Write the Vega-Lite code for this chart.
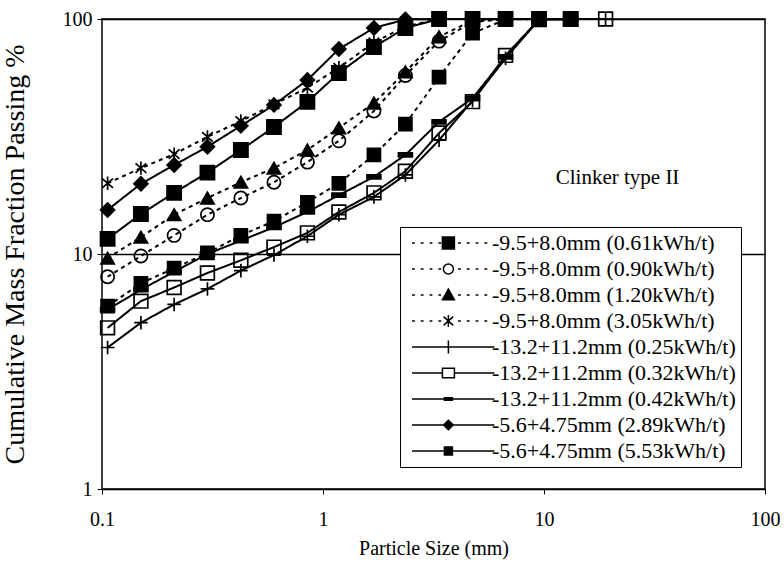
{
  "$schema": "https://vega.github.io/schema/vega-lite/v6.json",
  "autosize": {"type": "none"},
  "width": 663,
  "height": 470,
  "padding": {"left": 102, "top": 19, "right": 19, "bottom": 75},
  "background": "white",
  "config": {
    "font": "Liberation Serif",
    "view": {"stroke": "black", "strokeWidth": 1.5},
    "axis": {"labelFont": "Liberation Serif", "titleFont": "Liberation Serif", "labelColor": "black", "titleColor": "black", "titleFontWeight": "normal", "domain": false, "tickColor": "black", "tickSize": 5, "labelFontSize": 20, "titleFontSize": 20},
    "legend": {"orient": "none", "legendX": 298, "legendY": 208, "title": null, "strokeColor": "black", "fillColor": "white", "padding": 5,
      "labelFont": "Liberation Serif", "labelFontSize": 22, "labelColor": "black", "labelOffset": 65, "labelLimit": 400,
      "symbolSize": 64, "symbolStrokeWidth": 1.5, "symbolStrokeColor": "black", "symbolOpacity": 1, "rowPadding": 4}
  },
  "data": {"values": [
    {"s":"A","x":0.106,"y":6.0},{"s":"A","x":0.15,"y":7.5},{"s":"A","x":0.212,"y":8.7},{"s":"A","x":0.3,"y":10.1},{"s":"A","x":0.425,"y":12.0},{"s":"A","x":0.6,"y":13.8},{"s":"A","x":0.85,"y":16.6},{"s":"A","x":1.18,"y":20.0},{"s":"A","x":1.7,"y":26.4},{"s":"A","x":2.36,"y":35.7},{"s":"A","x":3.35,"y":56.6},{"s":"A","x":4.75,"y":87},{"s":"A","x":6.7,"y":99.5},{"s":"A","x":9.5,"y":100},{"s":"A","x":13.2,"y":100},
    {"s":"B","x":0.106,"y":8.0},{"s":"B","x":0.15,"y":9.8},{"s":"B","x":0.212,"y":12.0},{"s":"B","x":0.3,"y":14.7},{"s":"B","x":0.425,"y":17.3},{"s":"B","x":0.6,"y":20.2},{"s":"B","x":0.85,"y":24.6},{"s":"B","x":1.18,"y":30.3},{"s":"B","x":1.7,"y":40.6},{"s":"B","x":2.36,"y":57.5},{"s":"B","x":3.35,"y":80.5},{"s":"B","x":4.75,"y":97},{"s":"B","x":6.7,"y":100},{"s":"B","x":9.5,"y":100},{"s":"B","x":13.2,"y":100},
    {"s":"C","x":0.106,"y":9.6},{"s":"C","x":0.15,"y":11.8},{"s":"C","x":0.212,"y":14.7},{"s":"C","x":0.3,"y":17.3},{"s":"C","x":0.425,"y":20.2},{"s":"C","x":0.6,"y":23.2},{"s":"C","x":0.85,"y":27.7},{"s":"C","x":1.18,"y":34.4},{"s":"C","x":1.7,"y":43.9},{"s":"C","x":2.36,"y":59.5},{"s":"C","x":3.35,"y":84},{"s":"C","x":4.75,"y":98.5},{"s":"C","x":6.7,"y":100},{"s":"C","x":9.5,"y":100},{"s":"C","x":13.2,"y":100},
    {"s":"D","x":0.106,"y":20.0},{"s":"D","x":0.15,"y":23.2},{"s":"D","x":0.212,"y":26.6},{"s":"D","x":0.3,"y":31.5},{"s":"D","x":0.425,"y":36.8},{"s":"D","x":0.6,"y":43.3},{"s":"D","x":0.85,"y":51.0},{"s":"D","x":1.18,"y":62},{"s":"D","x":1.7,"y":79.5},{"s":"D","x":2.36,"y":93},{"s":"D","x":3.35,"y":100},{"s":"D","x":4.75,"y":100},{"s":"D","x":6.7,"y":100},{"s":"D","x":9.5,"y":100},{"s":"D","x":13.2,"y":100},
    {"s":"E","x":0.106,"y":4.0},{"s":"E","x":0.15,"y":5.1},{"s":"E","x":0.212,"y":6.1},{"s":"E","x":0.3,"y":7.1},{"s":"E","x":0.425,"y":8.5},{"s":"E","x":0.6,"y":9.9},{"s":"E","x":0.85,"y":11.9},{"s":"E","x":1.18,"y":14.7},{"s":"E","x":1.7,"y":17.5},{"s":"E","x":2.36,"y":21.7},{"s":"E","x":3.35,"y":30.5},{"s":"E","x":4.75,"y":45},{"s":"E","x":6.7,"y":68},{"s":"E","x":9.5,"y":99.5},{"s":"E","x":13.2,"y":100},{"s":"E","x":19,"y":100},
    {"s":"F","x":0.106,"y":4.85},{"s":"F","x":0.15,"y":6.3},{"s":"F","x":0.212,"y":7.2},{"s":"F","x":0.3,"y":8.3},{"s":"F","x":0.425,"y":9.4},{"s":"F","x":0.6,"y":10.7},{"s":"F","x":0.85,"y":12.3},{"s":"F","x":1.18,"y":15.1},{"s":"F","x":1.7,"y":18.2},{"s":"F","x":2.36,"y":22.5},{"s":"F","x":3.35,"y":32.7},{"s":"F","x":4.75,"y":44.5},{"s":"F","x":6.7,"y":70},{"s":"F","x":9.5,"y":99.5},{"s":"F","x":13.2,"y":100},{"s":"F","x":19,"y":100},
    {"s":"G","x":0.106,"y":5.8},{"s":"G","x":0.15,"y":7.05},{"s":"G","x":0.212,"y":8.4},{"s":"G","x":0.3,"y":10.0},{"s":"G","x":0.425,"y":11.4},{"s":"G","x":0.6,"y":13.0},{"s":"G","x":0.85,"y":15.1},{"s":"G","x":1.18,"y":17.8},{"s":"G","x":1.7,"y":21.3},{"s":"G","x":2.36,"y":26.4},{"s":"G","x":3.35,"y":36.5},{"s":"G","x":4.75,"y":46},{"s":"G","x":6.7,"y":69},{"s":"G","x":9.5,"y":99.5},{"s":"G","x":13.2,"y":100},
    {"s":"H","x":0.106,"y":15.4},{"s":"H","x":0.15,"y":19.9},{"s":"H","x":0.212,"y":23.9},{"s":"H","x":0.3,"y":28.6},{"s":"H","x":0.425,"y":35.1},{"s":"H","x":0.6,"y":43.1},{"s":"H","x":0.85,"y":55.0},{"s":"H","x":1.18,"y":74.5},{"s":"H","x":1.7,"y":91.6},{"s":"H","x":2.36,"y":99.6},{"s":"H","x":3.35,"y":100},{"s":"H","x":4.75,"y":100},{"s":"H","x":6.7,"y":100},{"s":"H","x":9.5,"y":100},{"s":"H","x":13.2,"y":100},
    {"s":"I","x":0.106,"y":11.6},{"s":"I","x":0.15,"y":14.8},{"s":"I","x":0.212,"y":18.2},{"s":"I","x":0.3,"y":22.2},{"s":"I","x":0.425,"y":27.7},{"s":"I","x":0.6,"y":34.7},{"s":"I","x":0.85,"y":44.4},{"s":"I","x":1.18,"y":58.9},{"s":"I","x":1.7,"y":76},{"s":"I","x":2.36,"y":91.6},{"s":"I","x":3.35,"y":100},{"s":"I","x":4.75,"y":100},{"s":"I","x":6.7,"y":100},{"s":"I","x":9.5,"y":100},{"s":"I","x":13.2,"y":100}
  ]},
  "encoding": {
    "x": {"field": "x", "type": "quantitative", "scale": {"type": "log", "domain": [0.1, 100], "nice": false},
      "axis": {"values": [0.1, 1, 10, 100], "format": "~g", "title": "Particle Size (mm)", "grid": false, "labelPadding": 15, "titlePadding": 9, "labelFlush": false}},
    "y": {"field": "y", "type": "quantitative", "scale": {"type": "log", "domain": [1, 100], "nice": false},
      "axis": {"values": [1, 10, 100], "format": "~g", "title": "Cumulative Mass Fraction Passing %", "titleFontSize": 28, "grid": true, "gridColor": "black", "gridWidth": 1.5, "gridOpacity": 1, "labelPadding": 5, "titlePadding": 33, "labelFlush": false}}
  },
  "layer": [
    {
      "mark": {"type": "line", "color": "black", "strokeWidth": 2},
      "encoding": {
        "detail": {"field": "s"},
        "strokeDash": {"field": "s", "type": "nominal", "legend": null,
          "scale": {"domain": ["A","B","C","D","E","F","G","H","I"], "range": [[4,4],[4,4],[4,4],[4,4],[1,0],[1,0],[1,0],[1,0],[1,0]]}}
      }
    },
    {
      "mark": {"type": "point", "filled": true, "stroke": "black", "strokeWidth": 1.7, "opacity": 1},
      "encoding": {
        "shape": {"field": "s", "type": "nominal", "legend": null,
          "scale": {"domain": ["A","B","C","D","E","F","G","H","I"], "range": ["square", "circle", "triangle-up", "M0,-1V1M-0.8,-0.7L0.8,0.7M-0.8,0.7L0.8,-0.7", "M-1,0H1M0,-1V1", "square", "M-1,-0.3H1V0.3H-1Z", "diamond", "square"]}},
        "fill": {"field": "s", "type": "nominal", "legend": null,
          "scale": {"domain": ["A","B","C","D","E","F","G","H","I"], "range": ["black", "transparent", "black", "black", "black", "transparent", "black", "black", "black"]}},
        "size": {"field": "s", "type": "nominal", "legend": null,
          "scale": {"domain": ["A","B","C","D","E","F","G","H","I"], "range": [170, 200, 180, 250, 260, 140, 100, 120, 100]}}
      }
    },
    {
      "mark": {"type": "point", "filled": true, "opacity": 0},
      "encoding": {
        "shape": {"field": "s", "type": "nominal",
          "scale": {"domain": ["A","B","C","D","E","F","G","H","I"], "range": [
            "M-1,0H-0.3M1.2,0H1.9M3.4,0H4.1M5.6,0H6.3M10.5,0H11.2M12.7,0H13.4M14.9,0H15.6M17.1,0H17.8M6.6,-1.5H9.6V1.5H6.6Z",
            "M-1,0H-0.3M1.2,0H1.9M3.4,0H4.1M5.6,0H6.3M10.5,0H11.2M12.7,0H13.4M14.9,0H15.6M17.1,0H17.8M6.85,0A1.25,1.25,0,1,0,9.35,0A1.25,1.25,0,1,0,6.85,0Z",
            "M-1,0H-0.3M1.2,0H1.9M3.4,0H4.1M5.6,0H6.3M10.5,0H11.2M12.7,0H13.4M14.9,0H15.6M17.1,0H17.8M8.1,-1.5L9.6,1.2H6.6Z",
            "M-1,0H-0.3M1.2,0H1.9M3.4,0H4.1M5.6,0H6.3M10.5,0H11.2M12.7,0H13.4M14.9,0H15.6M17.1,0H17.8M8.1,-1.5V1.5M6.9,-1.1L9.3,1.1M6.9,1.1L9.3,-1.1",
            "M-1,0H19.6M8.1,-1.6V1.6",
            "M-1,0H6.6M9.6,0H19.6M6.6,-1.2H9.6V1.2H6.6Z",
            "M-1,0H19.6M7.1,-0.3H9.1V0.3H7.1Z",
            "M-1,0H19.6M8.1,-1.2L9.3,0L8.1,1.2L6.9,0Z",
            "M-1,0H19.6M7.1,-1H9.1V1H7.1Z"
          ]},
          "legend": {"labelExpr": "{'A':'-9.5+8.0mm (0.61kWh/t)','B':'-9.5+8.0mm (0.90kWh/t)','C':'-9.5+8.0mm (1.20kWh/t)','D':'-9.5+8.0mm (3.05kWh/t)','E':'-13.2+11.2mm (0.25kWh/t)','F':'-13.2+11.2mm (0.32kWh/t)','G':'-13.2+11.2mm (0.42kWh/t)','H':'-5.6+4.75mm (2.89kWh/t)','I':'-5.6+4.75mm (5.53kWh/t)'}[datum.label]"}},
        "fill": {"field": "s", "type": "nominal",
          "scale": {"domain": ["A","B","C","D","E","F","G","H","I"], "range": ["black", "white", "black", "black", "black", "white", "black", "black", "black"]},
          "legend": {"labelExpr": "{'A':'-9.5+8.0mm (0.61kWh/t)','B':'-9.5+8.0mm (0.90kWh/t)','C':'-9.5+8.0mm (1.20kWh/t)','D':'-9.5+8.0mm (3.05kWh/t)','E':'-13.2+11.2mm (0.25kWh/t)','F':'-13.2+11.2mm (0.32kWh/t)','G':'-13.2+11.2mm (0.42kWh/t)','H':'-5.6+4.75mm (2.89kWh/t)','I':'-5.6+4.75mm (5.53kWh/t)'}[datum.label]"}},
        "stroke": {"field": "s", "type": "nominal",
          "scale": {"domain": ["A","B","C","D","E","F","G","H","I"], "range": ["black", "black", "black", "black", "black", "black", "black", "black", "black"]},
          "legend": {"labelExpr": "{'A':'-9.5+8.0mm (0.61kWh/t)','B':'-9.5+8.0mm (0.90kWh/t)','C':'-9.5+8.0mm (1.20kWh/t)','D':'-9.5+8.0mm (3.05kWh/t)','E':'-13.2+11.2mm (0.25kWh/t)','F':'-13.2+11.2mm (0.32kWh/t)','G':'-13.2+11.2mm (0.42kWh/t)','H':'-5.6+4.75mm (2.89kWh/t)','I':'-5.6+4.75mm (5.53kWh/t)'}[datum.label]"}}
      }
    },
    {
      "transform": [{"filter": "datum.s == 'A' && datum.x == 0.106"}],
      "mark": {"type": "text", "align": "left", "baseline": "middle", "font": "Liberation Serif", "fontSize": 21, "color": "black"},
      "encoding": {"x": {"datum": 11.3}, "y": {"datum": 21}, "text": {"value": "Clinker type II"}}
    }
  ],
  "resolve": {"scale": {"shape": "independent", "fill": "independent", "stroke": "independent"}, "legend": {"shape": "independent", "fill": "independent", "stroke": "independent"}}
}
